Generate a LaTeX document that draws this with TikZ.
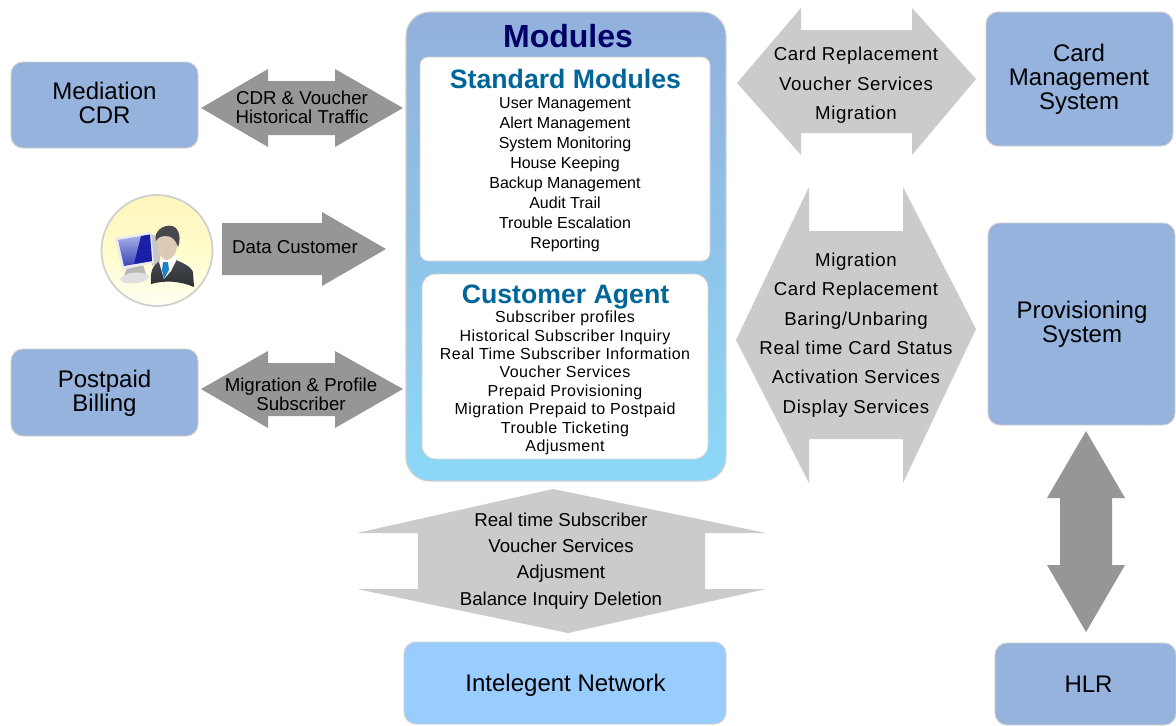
\documentclass[tikz,border=0pt]{standalone}
\usepackage{fontspec}
\setmainfont{Liberation Sans}
\newfontfamily\trackfont[LetterSpace=3.3]{Liberation Sans}
\newfontfamily\trackfontb[LetterSpace=2.75]{Liberation Sans}
\definecolor{boxblue}{HTML}{95B3DD}
\definecolor{inblue}{HTML}{99CCFF}
\definecolor{edgegrey}{HTML}{CFCFCF}
\definecolor{darkarrow}{HTML}{969696}
\definecolor{lightarrow}{HTML}{CBCBCB}
\definecolor{navytitle}{HTML}{000066}
\definecolor{tealtitle}{HTML}{006699}
\definecolor{modtop}{HTML}{92B0DC}
\definecolor{modbottom}{HTML}{8CD8F8}
\definecolor{icontop}{HTML}{FDF5BC}
\definecolor{iconmid}{HTML}{FFFCCB}
\definecolor{iconbottom}{HTML}{FFFFF2}
\definecolor{suit}{HTML}{2B2F34}
\definecolor{suitlight}{HTML}{4A4E54}
\definecolor{hair}{HTML}{45484C}
\definecolor{face}{HTML}{DCC9B6}
\definecolor{tie}{HTML}{1E82C4}
\definecolor{screenlight}{HTML}{A9B2EA}
\definecolor{screendark}{HTML}{3A45B8}
\definecolor{screenstripe}{HTML}{1B1FA8}
\newcommand\pxbox[7]{\node[#6,minimum width={(#4-#2)*0.75pt},minimum height={(#5-#3)*0.75pt},inner sep=0pt,align=center] (#1) at ({(#2+#4)/2},{(#3+#5)/2}) {#7};}
\tikzset{
  x=0.75pt,y=-0.75pt,
  sysbox/.style={rectangle,draw=edgegrey,line width=0.7pt,fill=boxblue,rounded corners=9pt},
  netbox/.style={sysbox,fill=inblue},
  boxtext/.style={align=center,inner sep=0pt,font={\fontsize{18}{18}\selectfont}},
  modbox/.style={rectangle,draw=edgegrey,line width=0.8pt,rounded corners=18pt,top color=modtop,bottom color=modbottom},
  panelA/.style={rectangle,draw=edgegrey,line width=0.6pt,fill=white,rounded corners=6pt},
  panelB/.style={panelA,rounded corners=10pt},
  darkblock/.style={fill=darkarrow,draw=none},
  lightblock/.style={fill=lightarrow,draw=none},
  bigtitle/.style={font={\fontsize{24}{24}\selectfont\bfseries},text=navytitle},
  subtitle/.style={font={\fontsize{20}{20}\selectfont\bfseries},text=tealtitle},
  stdlist/.style={align=center,inner sep=0pt,font={\fontsize{12}{15}\selectfont}},
  agentlist/.style={align=center,inner sep=0pt,font={\fontsize{12}{13.8}\selectfont\trackfontb}},
  darklabel/.style={align=center,inner sep=0pt,font={\fontsize{14}{14.3}\selectfont}},
  rightlist/.style={align=center,inner sep=0pt,font={\fontsize{14}{22}\selectfont\trackfont}},
  bottomlist/.style={align=center,inner sep=0pt,font={\fontsize{14}{19.7}\selectfont}},
}
\begin{document}
\begin{tikzpicture}
\useasboundingbox (0,0) rectangle (1176,725);
\fill[white] (0,0) rectangle (1176,725);

% system boxes
\pxbox{mediation}{11}{62}{198}{148}{sysbox}{}
\pxbox{postpaid}{11}{349}{198}{436}{sysbox}{}
\pxbox{card}{986}{12}{1173}{146}{sysbox}{}
\pxbox{prov}{988}{223}{1175}{425}{sysbox}{}
\pxbox{hlr}{995}{643}{1176}{725}{sysbox}{}
\pxbox{inet}{404}{642}{726}{724}{netbox}{}
\node[boxtext] (medtext) at (104.5,103) {Mediation\\CDR};
\node[boxtext] (posttext) at (104.5,393) {Postpaid\\Billing};
\node[boxtext] (cardtext) at (1079,79) {Card\\Management\\System};
\node[boxtext] (provtext) at (1082,324) {Provisioning\\System};
\node[boxtext] (hlrtext) at (1088.5,684) {HLR};
\node[boxtext] (inettext) at (565.5,685) {Intelegent Network};

% modules
\pxbox{modules}{406}{12}{726}{481}{modbox}{}
\pxbox{stdpanel}{420}{57}{710}{261}{panelA}{}
\pxbox{agentpanel}{422}{274}{708}{459}{panelB}{}
\node[bigtitle] (modtitle) at (568,36) {Modules};
\node[subtitle] (stdtitle) at (565.5,79) {Standard Modules};
\node[stdlist] (stdtext) at (565,175) {User Management\\Alert Management\\System Monitoring\\House Keeping\\Backup Management\\Audit Trail\\Trouble Escalation\\Reporting};
\node[subtitle] (agenttitle) at (565.5,297) {Customer Agent};
\node[agentlist] (agenttext) at (565,383) {Subscriber profiles\\Historical Subscriber Inquiry\\Real Time Subscriber Information\\Voucher Services\\Prepaid Provisioning\\Migration Prepaid to Postpaid\\Trouble Ticketing\\Adjusment};

% dark block arrows
\fill[darkblock] (201,108)--(268,69)--(268,81)--(335,81)--(335,69)--(403,108)--(335,147)--(335,135)--(268,135)--(268,147)--cycle;
\node[darklabel] (cdrlabel) at (302,107) {CDR \& Voucher\\Historical Traffic};
\fill[darkblock] (222,223)--(322,223)--(322,212)--(386,249)--(322,286)--(322,275)--(222,275)--cycle;
\node[darklabel] (datalabel) at (295,247) {Data Customer};
\fill[darkblock] (201,389)--(268,351)--(268,363)--(335,363)--(335,351)--(403,389)--(335,428)--(335,416)--(268,416)--(268,428)--cycle;
\node[darklabel] (miglabel) at (301,394.5) {Migration \& Profile\\Subscriber};
\fill[darkblock] (1086,431)--(1125,498)--(1112,498)--(1112,565)--(1125,565)--(1086,632)--(1047,565)--(1060,565)--(1060,498)--(1047,498)--cycle;

% light block arrows
\fill[lightblock] (737,83)--(801,8)--(801,30)--(912,30)--(912,8)--(976,79)--(912,155)--(912,133)--(801,133)--(801,155)--cycle;
\node[rightlist] (cardlist) at (856,85.5) {Card Replacement\\Voucher Services\\Migration};
\fill[lightblock] (736,340)--(809,187)--(809,231)--(903,231)--(903,187)--(976,329)--(903,483)--(903,439)--(809,439)--(809,483)--cycle;
\node[rightlist] (provlist) at (856,335) {Migration\\Card Replacement\\Baring/Unbaring\\Real time Card Status\\Activation Services\\Display Services};
\fill[lightblock] (553,489)--(766,533)--(705,533)--(705,589)--(766,589)--(568,633)--(357,589)--(418,589)--(418,533)--(357,533)--cycle;
\node[bottomlist] (inlist) at (561,561) {Real time Subscriber\\Voucher Services\\Adjusment\\Balance Inquiry Deletion};

% user icon
\node[circle,minimum size={111*0.75pt},inner sep=0pt,draw=edgegrey,line width=1.3pt,top color=icontop,bottom color=iconbottom,middle color=iconmid] (usericon) at (157,250.5) {};
% monitor
\fill[black!22] (150,234)--(160,237)--(160,262)--(152,266)--cycle;
\fill[black!28] (127,268)--(143,265)--(146,274)--(124,276)--cycle;
\fill[black!12] (120,280) .. controls (122,272) and (144,270) .. (149,276) .. controls (149,284) and (124,286) .. (120,280) -- cycle;
\fill[black!8] (115,238)--(151,232)--(154,263)--(122,270)--cycle;
\shade[top color=screenlight,bottom color=screendark] (118,240)--(150,234.5)--(152,261)--(124,266)--cycle;
\fill[screenstripe] (141,236)--(150,234.5)--(152,261)--(134,264)--cycle;
% man
\shade[top color=suitlight,bottom color=suit] (151,284) .. controls (150,268) and (153,264) .. (168,256) .. controls (176,261) and (190,264) .. (193,272) -- (194,287) .. controls (180,281) and (165,280) .. (151,284) -- cycle;
\fill[white] (159,262)--(166,253)--(178,257)--(171,271)--(164,279)--cycle;
\fill[tie] (163,262)--(168,262)--(169,270)--(164,279)--(162,270)--cycle;
\fill[face] (157,240) .. controls (157,233) and (176,233) .. (177,242) .. controls (178,252) and (172,260) .. (167,260) .. controls (161,260) and (157,250) .. (157,240) -- cycle;
\fill[hair] (156,241) .. controls (153,232) and (163,224) .. (172,226) .. controls (180,228) and (181,240) .. (178,247) .. controls (176,240) and (172,236) .. (166,236) .. controls (162,236) and (158,237) .. (156,241) -- cycle;
\end{tikzpicture}
\end{document}
